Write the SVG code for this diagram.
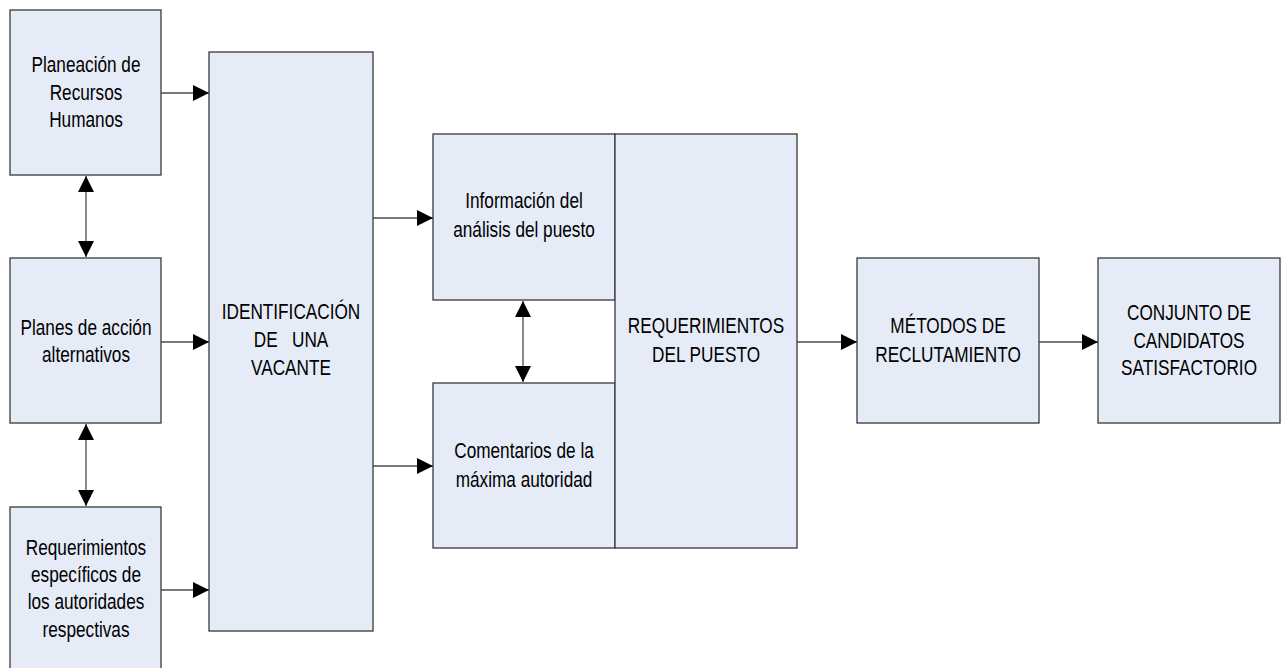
<svg xmlns="http://www.w3.org/2000/svg" width="1287" height="668" viewBox="0 0 1287 668">
  <style>
    .box { fill: #E6ECF7; stroke: #3a3a3a; stroke-width: 1.3; }
    .lbl { font-family: "Liberation Sans Narrow", "Arial Narrow", "Liberation Sans", sans-serif; font-size: 22.5px; fill: #000; text-anchor: middle; }
    .wire { stroke: #4a4a4a; stroke-width: 1.3; fill: none; }
  </style>
  <defs>
    <marker id="head" viewBox="0 0 16 16" refX="16" refY="8" markerWidth="16" markerHeight="16" markerUnits="userSpaceOnUse" orient="auto-start-reverse">
      <path d="M0,0 L16,8 L0,16 Z" fill="#000"/>
    </marker>
  </defs>
  <rect width="1287" height="668" fill="#fff"/>

  <!-- labels are drawn condensed: each text is centred at x=0 and squeezed horizontally -->
  <g id="planeacion">
    <rect class="box" x="10" y="10" width="151" height="165"/>
    <text class="lbl" transform="translate(86 0) scale(0.765 1)"><tspan x="0" y="72">Planeación de</tspan><tspan x="0" y="100">Recursos</tspan><tspan x="0" y="127">Humanos</tspan></text>
  </g>
  <g id="planes-accion">
    <rect class="box" x="10" y="258" width="151" height="165"/>
    <text class="lbl" transform="translate(86 0) scale(0.765 1)"><tspan x="0" y="335">Planes de acción</tspan><tspan x="0" y="362">alternativos</tspan></text>
  </g>
  <g id="requerimientos-especificos">
    <rect class="box" x="10" y="507" width="151" height="170"/>
    <text class="lbl" transform="translate(86 0) scale(0.765 1)"><tspan x="0" y="555">Requerimientos</tspan><tspan x="0" y="582">específicos de</tspan><tspan x="0" y="609">los autoridades</tspan><tspan x="0" y="637">respectivas</tspan></text>
  </g>
  <g id="identificacion">
    <rect class="box" x="209" y="52" width="164" height="579"/>
    <text class="lbl" transform="translate(291 0) scale(0.765 1)"><tspan x="0" y="319">IDENTIFICACIÓN</tspan><tspan x="0" y="347" xml:space="preserve">DE   UNA</tspan><tspan x="0" y="375">VACANTE</tspan></text>
  </g>
  <g id="info-analisis">
    <rect class="box" x="433" y="134" width="182" height="166"/>
    <text class="lbl" transform="translate(524 0) scale(0.765 1)"><tspan x="0" y="208">Información del</tspan><tspan x="0" y="237">análisis del puesto</tspan></text>
  </g>
  <g id="comentarios">
    <rect class="box" x="433" y="383" width="182" height="165"/>
    <text class="lbl" transform="translate(524 0) scale(0.765 1)"><tspan x="0" y="458">Comentarios de la</tspan><tspan x="0" y="487">máxima autoridad</tspan></text>
  </g>
  <g id="requerimientos-puesto">
    <rect class="box" x="615" y="134" width="182" height="414"/>
    <text class="lbl" transform="translate(706 0) scale(0.765 1)"><tspan x="0" y="333">REQUERIMIENTOS</tspan><tspan x="0" y="362">DEL PUESTO</tspan></text>
  </g>
  <g id="metodos">
    <rect class="box" x="857" y="258" width="182" height="165"/>
    <text class="lbl" transform="translate(948 0) scale(0.765 1)"><tspan x="0" y="333">MÉTODOS DE</tspan><tspan x="0" y="362">RECLUTAMIENTO</tspan></text>
  </g>
  <g id="conjunto">
    <rect class="box" x="1098" y="258" width="182" height="165"/>
    <text class="lbl" transform="translate(1189 0) scale(0.765 1)"><tspan x="0" y="320">CONJUNTO DE</tspan><tspan x="0" y="348">CANDIDATOS</tspan><tspan x="0" y="375">SATISFACTORIO</tspan></text>
  </g>

  <g id="connectors">
    <line class="wire" x1="86" y1="176" x2="86" y2="257" marker-start="url(#head)" marker-end="url(#head)"/>
    <line class="wire" x1="86" y1="424" x2="86" y2="506" marker-start="url(#head)" marker-end="url(#head)"/>
    <line class="wire" x1="161" y1="93" x2="209" y2="93" marker-end="url(#head)"/>
    <line class="wire" x1="161" y1="342" x2="209" y2="342" marker-end="url(#head)"/>
    <line class="wire" x1="161" y1="590" x2="209" y2="590" marker-end="url(#head)"/>
    <line class="wire" x1="373" y1="218" x2="433" y2="218" marker-end="url(#head)"/>
    <line class="wire" x1="373" y1="466" x2="433" y2="466" marker-end="url(#head)"/>
    <line class="wire" x1="523" y1="301" x2="523" y2="382" marker-start="url(#head)" marker-end="url(#head)"/>
    <line class="wire" x1="797" y1="342" x2="857" y2="342" marker-end="url(#head)"/>
    <line class="wire" x1="1039" y1="342" x2="1098" y2="342" marker-end="url(#head)"/>
  </g>
</svg>
